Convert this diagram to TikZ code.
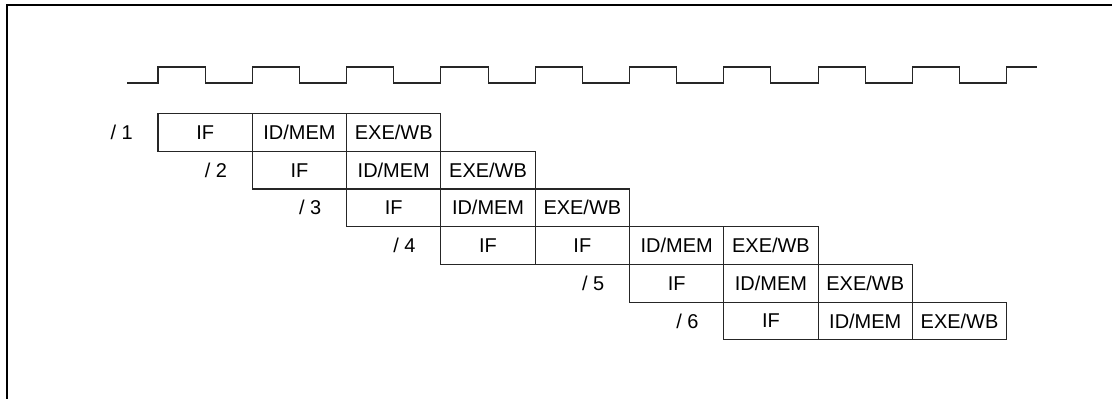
\documentclass[tikz,border=0pt]{standalone}
\usepackage{fontspec}
\setmainfont{Liberation Sans}
\usetikzlibrary{positioning}
\NewDocumentCommand{\DrawPipelineRow}{O{} m m m}{%
    \def\RowNo{#2}
    \def\FirstCol{#3}
    %
    \foreach \Stage [count=\k from 0] in {#4} {
        \node [stage, #1] (s\RowNo-\k)
            at ({158+94.3*(\FirstCol+\k)+47.15}, {113.6+37.7*(\RowNo-1)+18.85}) {\Stage};
    }
    \node [tag, left=25*0.025cm of s\RowNo-0] (n\RowNo) {/ \RowNo};
}
\tikzset{
    stage/.style={draw=black!85, line width=0.75pt, minimum width=2.3575cm,
        minimum height=0.9425cm, inner sep=0pt, outer sep=0pt,
        font=\fontsize{14.2}{17}\selectfont},
    tag/.style={inner sep=0pt, font=\fontsize{14.2}{17}\selectfont},
    clock/.style={black!85, line width=0.75pt},
    frame/.style={black, line width=1.5pt},
}
\begin{document}
\begin{tikzpicture}[x=0.025cm, y=-0.025cm]
    \useasboundingbox (0,0) rectangle (1112,399);
    \draw[frame] (6.7,405) |- (1120,5);

    % clock
    \draw[clock] (127,83) -- (158,83)
        \foreach \k in {0,...,8} {-- ++(0,-16) -- ++(47.15,0) -- ++(0,16) -- ++(47.15,0)}
        -- ++(0,-16) -- ++(30.5,0);

    % pipeline
    \DrawPipelineRow{1}{0}{IF, ID/MEM, EXE/WB}
    \DrawPipelineRow{2}{1}{IF, ID/MEM, EXE/WB}
    \DrawPipelineRow{3}{2}{IF, ID/MEM, EXE/WB}
    \DrawPipelineRow{4}{3}{IF, IF, ID/MEM, EXE/WB}
    \DrawPipelineRow{5}{5}{IF, ID/MEM, EXE/WB}
    \DrawPipelineRow{6}{6}{IF, ID/MEM, EXE/WB}

\end{tikzpicture}
\end{document}
